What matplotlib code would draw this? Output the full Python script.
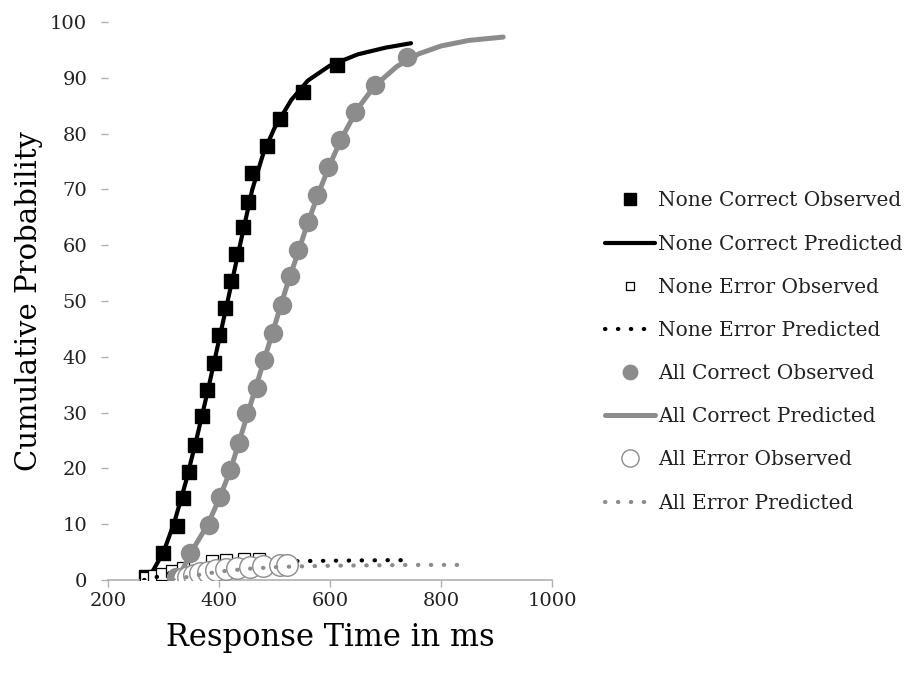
import matplotlib
matplotlib.use("Agg")
import matplotlib.pyplot as plt

plt.rcParams['font.family'] = ['DejaVu Serif']

# None Correct Observed
nco_x = [268, 299, 324, 335, 346, 357, 369, 378, 391, 400, 411, 421, 431, 443, 452, 459, 486, 510, 551, 612]
nco_y = [0.5, 4.8, 9.6, 14.7, 19.4, 24.2, 29.3, 34.0, 38.9, 43.9, 48.7, 53.5, 58.4, 63.3, 67.8, 73.0, 77.8, 82.6, 87.5, 92.3]
# None Correct Predicted
ncp_x = [265, 280, 300, 320, 340, 360, 380, 400, 420, 440, 460, 480, 500, 530, 560, 600, 650, 700, 746]
ncp_y = [0.0, 1.5, 5.0, 10.5, 17.5, 25.5, 34.0, 43.0, 52.0, 61.0, 70.0, 76.5, 81.0, 86.0, 89.5, 92.2, 94.2, 95.4, 96.2]
# None Error Observed
neo_x = [268, 282, 298, 315, 335, 388, 412, 445, 472]
neo_y = [0.3, 0.7, 1.1, 1.6, 2.2, 3.4, 3.6, 3.7, 3.8]
# None Error Predicted
nep_x = [265, 290, 320, 360, 400, 450, 500, 550, 600, 650, 700, 735]
nep_y = [0.0, 0.6, 1.5, 2.5, 3.0, 3.2, 3.3, 3.4, 3.45, 3.5, 3.55, 3.55]
# All Correct Observed
aco_x = [322, 348, 382, 402, 420, 436, 449, 468, 481, 497, 513, 528, 542, 560, 576, 596, 618, 645, 681, 738]
aco_y = [0.5, 4.8, 9.9, 14.9, 19.7, 24.5, 29.9, 34.4, 39.4, 44.3, 49.3, 54.4, 59.1, 64.2, 69.0, 74.1, 78.9, 83.9, 88.7, 93.8]
# All Correct Predicted
acp_x = [318, 335, 350, 380, 400, 420, 440, 460, 480, 500, 520, 540, 560, 580, 600, 620, 650, 680, 720, 760, 800, 850, 912]
acp_y = [0.0, 2.0, 5.0, 10.0, 14.5, 19.5, 26.0, 32.5, 39.0, 45.5, 52.0, 58.0, 64.0, 69.5, 74.5, 79.0, 84.5, 88.5, 92.0, 94.3, 95.7, 96.7, 97.3]
# All Error Observed
aeo_x = [337, 345, 355, 366, 380, 395, 412, 433, 455, 480, 510, 523]
aeo_y = [0.3, 0.6, 0.9, 1.2, 1.5, 1.8, 2.0, 2.2, 2.4, 2.5, 2.6, 2.7]
# All Error Predicted
aep_x = [318, 350, 400, 450, 500, 550, 600, 650, 700, 750, 800, 835]
aep_y = [0.0, 0.7, 1.5, 2.0, 2.3, 2.45, 2.55, 2.6, 2.65, 2.7, 2.7, 2.7]

labels = ["None Correct Observed", "None Correct Predicted", "None Error Observed",
          "None Error Predicted", "All Correct Observed", "All Correct Predicted",
          "All Error Observed", "All Error Predicted"]

GRAY = '#8c8c8c'
DOTS = (0, (0.1, 3.0))

fig = plt.figure(figsize=(9.10, 6.77), dpi=100)
ax = fig.add_axes([0.1187, 0.1433, 0.4879, 0.8242])

ax.plot(nco_x, nco_y, ls='none', marker='s', ms=10.5, mfc='black', mec='black', label=labels[0], zorder=2)
ax.plot(ncp_x, ncp_y, color='black', lw=3, label=labels[1], zorder=3, solid_capstyle='round')
ax.plot(neo_x, neo_y, ls='none', marker='s', ms=8, mfc='white', mec='black', mew=0.9, label=labels[2], zorder=4)
ax.plot(nep_x, nep_y, color='black', lw=3, ls=DOTS, dash_capstyle='round', label=labels[3], zorder=5)
ax.plot(aco_x, aco_y, ls='none', marker='o', ms=13, mfc=GRAY, mec=GRAY, label=labels[4], zorder=6)
ax.plot(acp_x, acp_y, color=GRAY, lw=3.6, label=labels[5], zorder=7, solid_capstyle='round')
ax.plot(aeo_x, aeo_y, ls='none', marker='o', ms=15.5, mfc='white', mec=GRAY, mew=1.0, label=labels[6], zorder=8)
ax.plot(aep_x, aep_y, color=GRAY, lw=3, ls=DOTS, dash_capstyle='round', label=labels[7], zorder=9)

ax.set_xlim(200, 1000)
ax.set_ylim(0, 100)
ax.set_xticks([200, 400, 600, 800, 1000])
ax.set_yticks(range(0, 101, 10))
for s in ['top', 'right', 'left']:
    ax.spines[s].set_visible(False)
ax.spines['bottom'].set_color('#b0b0b0')
ax.spines['bottom'].set_linewidth(1.2)
ax.tick_params(axis='both', colors='#b0b0b0', labelcolor='#222222', labelsize=14, direction='out', length=5, width=1.0)
ax.tick_params(axis='y', pad=10)
ax.tick_params(axis='x', pad=4)
ax.set_xlabel("Response Time in ms", fontsize=22, labelpad=8)
ax.set_ylabel("Cumulative Probability", fontsize=21, labelpad=5)

leg = fig.legend(loc='center left', bbox_to_anchor=(605 / 910, 1 - 352 / 677), frameon=False,
                 fontsize=14.5, handlelength=2.5, handletextpad=0.15, labelspacing=1.2,
                 borderaxespad=0, borderpad=0, markerscale=0.8)
for t in leg.get_texts():
    t.set_color('#222222')

fig.savefig("out.png", dpi=100)
